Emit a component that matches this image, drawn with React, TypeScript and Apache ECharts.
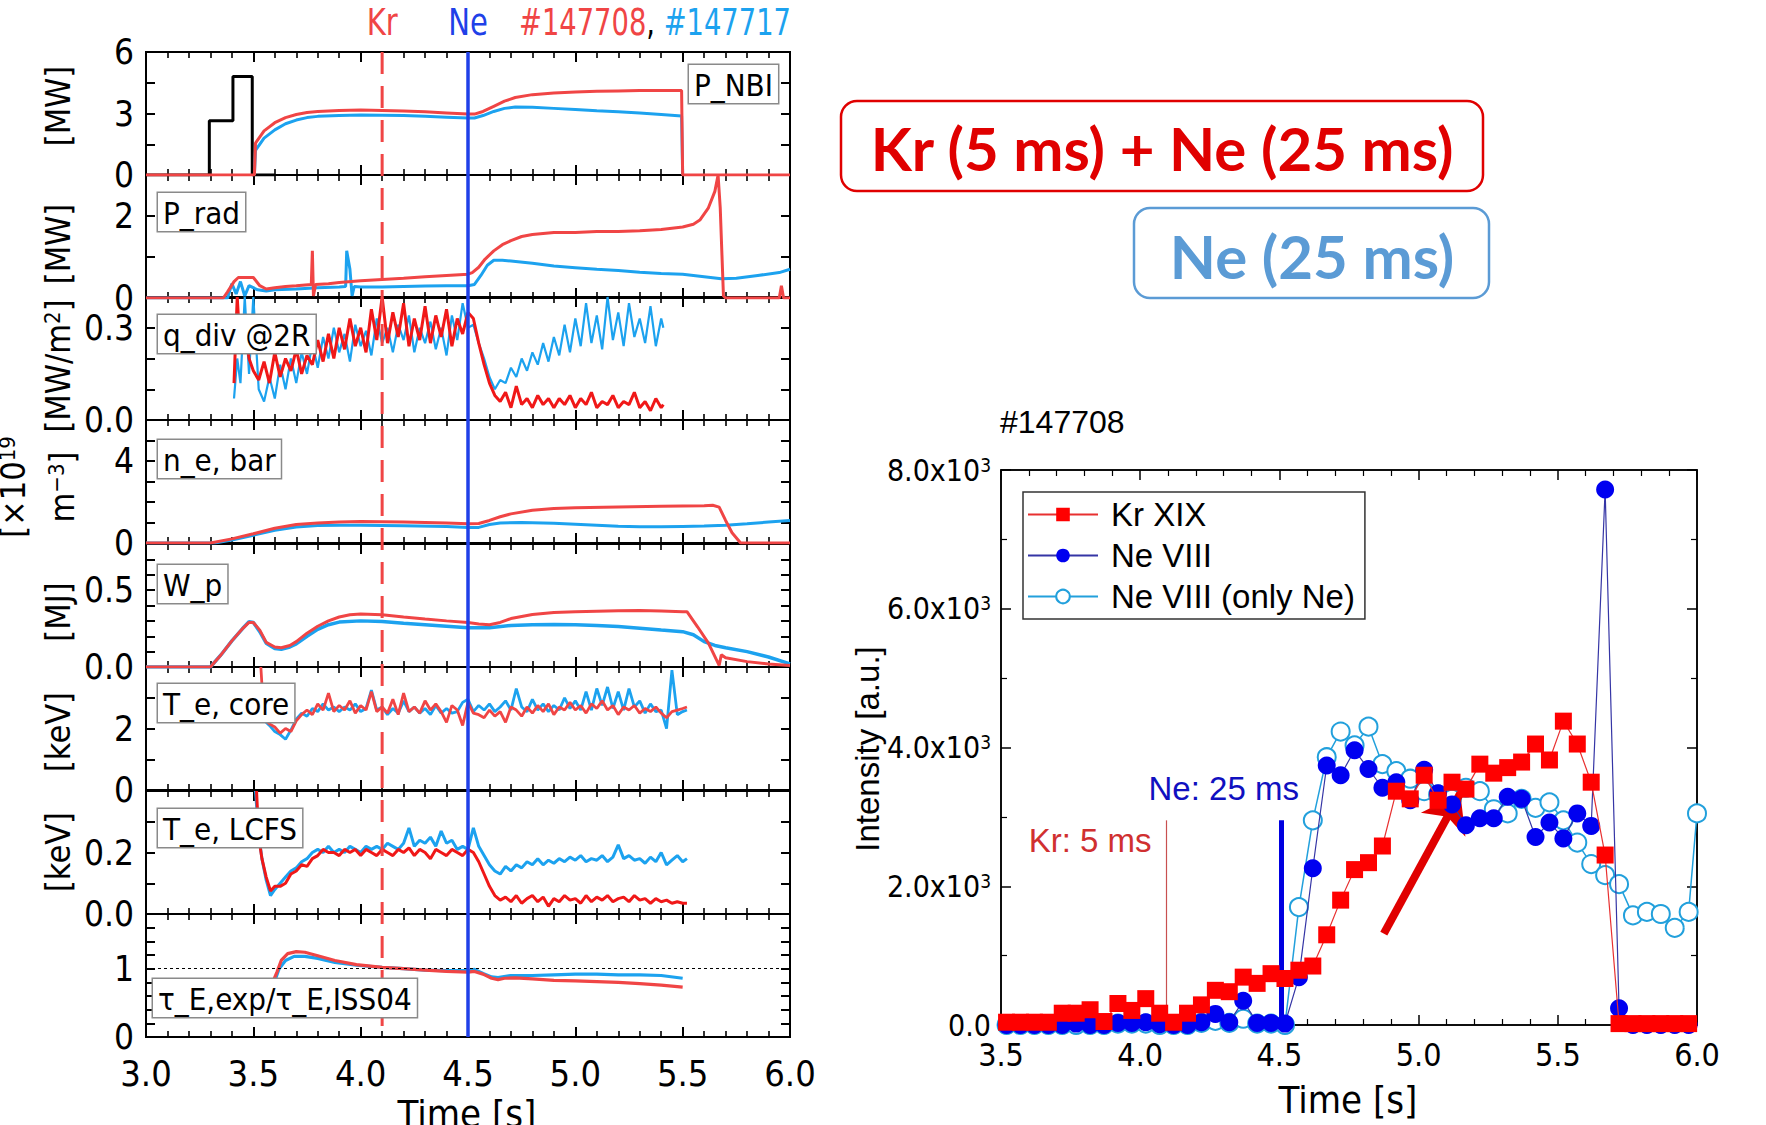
import { useEffect, useRef } from "react";
import * as echarts from "echarts";

// ---------------- data (left stack, shots #147708 red / #147717 blue) ----------------
const pnbiBlack = [[3.0,0],[3.295,0],[3.295,2.65],[3.405,2.65],[3.405,4.8],[3.495,4.8],[3.495,0],[3.6,0]];
const pnbiRed = [[3.0,0],[3.505,0],[3.51,1.55],[3.55,2.15],[3.6,2.55],[3.65,2.8],[3.7,2.95],[3.75,3.05],[3.8,3.1],[3.9,3.15],[4.0,3.17],[4.1,3.15],[4.2,3.12],[4.3,3.08],[4.4,3.03],[4.5,2.98],[4.53,2.97],[4.57,3.1],[4.62,3.35],[4.67,3.6],[4.72,3.78],[4.8,3.92],[4.9,4.0],[5.0,4.05],[5.1,4.08],[5.2,4.1],[5.3,4.12],[5.4,4.12],[5.495,4.12],[5.5,0],[6.0,0]];
const pnbiBlue = [[3.505,0],[3.51,1.2],[3.55,1.8],[3.6,2.2],[3.65,2.5],[3.7,2.68],[3.75,2.8],[3.8,2.86],[3.9,2.9],[4.0,2.93],[4.1,2.92],[4.2,2.9],[4.3,2.86],[4.4,2.82],[4.5,2.78],[4.53,2.78],[4.57,2.9],[4.62,3.1],[4.67,3.25],[4.72,3.32],[4.8,3.3],[4.9,3.25],[5.0,3.2],[5.1,3.13],[5.2,3.08],[5.3,3.02],[5.4,2.95],[5.495,2.88],[5.5,0]];

const pradRed = [[3.0,0],[3.36,0],[3.38,0.15],[3.41,0.4],[3.43,0.5],[3.5,0.5],[3.53,0.3],[3.56,0.22],[3.6,0.25],[3.65,0.28],[3.7,0.3],[3.77,0.33],[3.775,1.15],[3.78,0.05],[3.79,0.33],[3.85,0.35],[3.9,0.38],[4.0,0.42],[4.1,0.45],[4.2,0.48],[4.3,0.52],[4.4,0.55],[4.5,0.58],[4.52,0.62],[4.55,0.75],[4.58,0.95],[4.62,1.15],[4.66,1.3],[4.7,1.4],[4.75,1.5],[4.8,1.55],[4.9,1.6],[5.0,1.6],[5.1,1.62],[5.2,1.62],[5.3,1.64],[5.4,1.67],[5.45,1.7],[5.5,1.73],[5.55,1.8],[5.58,1.9],[5.62,2.2],[5.65,2.6],[5.665,3.0],[5.675,2.2],[5.69,0.05],[5.7,0],[5.95,0],[5.96,0.3],[5.97,0],[6.0,0]];
const pradBlue = [[3.0,0],[3.38,0],[3.40,0.35],[3.42,0.1],[3.44,0.4],[3.46,0.05],[3.48,0.3],[3.52,0.2],[3.56,0.17],[3.6,0.2],[3.7,0.22],[3.8,0.25],[3.9,0.27],[3.93,0.28],[3.935,1.15],[3.95,0.7],[3.96,0.05],[3.97,0.28],[4.0,0.27],[4.1,0.27],[4.2,0.28],[4.3,0.29],[4.4,0.3],[4.5,0.3],[4.53,0.33],[4.56,0.55],[4.59,0.8],[4.62,0.92],[4.66,0.92],[4.7,0.9],[4.8,0.85],[4.9,0.78],[5.0,0.74],[5.1,0.7],[5.2,0.67],[5.3,0.63],[5.4,0.6],[5.5,0.58],[5.6,0.52],[5.68,0.47],[5.75,0.48],[5.85,0.55],[5.95,0.62],[6.0,0.7]];

const qdivRed = [[3.41,0.12],[3.425,0.4],[3.44,0.22],[3.46,0.3],[3.48,0.2],[3.5,0.16],[3.525,0.13],[3.55,0.19],[3.575,0.12],[3.6,0.22],[3.625,0.14],[3.65,0.2],[3.675,0.16],[3.7,0.23],[3.725,0.15],[3.75,0.21],[3.775,0.18],[3.8,0.26],[3.825,0.19],[3.85,0.28],[3.875,0.2],[3.9,0.3],[3.925,0.23],[3.95,0.33],[3.975,0.24],[4.0,0.3],[4.025,0.22],[4.05,0.36],[4.075,0.26],[4.1,0.4],[4.125,0.25],[4.15,0.35],[4.175,0.27],[4.2,0.38],[4.225,0.24],[4.25,0.33],[4.275,0.26],[4.3,0.37],[4.325,0.25],[4.35,0.34],[4.375,0.27],[4.4,0.36],[4.425,0.24],[4.45,0.33],[4.475,0.28],[4.5,0.35],[4.525,0.33],[4.55,0.25],[4.575,0.18],[4.6,0.12],[4.625,0.08],[4.65,0.06],[4.675,0.09],[4.7,0.04],[4.725,0.11],[4.75,0.05],[4.775,0.07],[4.8,0.04],[4.825,0.08],[4.85,0.05],[4.875,0.07],[4.9,0.04],[4.925,0.07],[4.95,0.05],[4.975,0.08],[5.0,0.04],[5.025,0.07],[5.05,0.05],[5.075,0.09],[5.1,0.04],[5.125,0.06],[5.15,0.05],[5.175,0.08],[5.2,0.04],[5.225,0.06],[5.25,0.05],[5.275,0.09],[5.3,0.04],[5.325,0.06],[5.35,0.03],[5.375,0.07],[5.4,0.04],[5.41,0.05]];
const qdivBlue = [[3.41,0.07],[3.425,0.2],[3.44,0.12],[3.46,0.4],[3.48,0.15],[3.5,0.4],[3.525,0.1],[3.55,0.06],[3.575,0.14],[3.6,0.07],[3.625,0.18],[3.65,0.1],[3.675,0.2],[3.7,0.12],[3.725,0.22],[3.75,0.15],[3.775,0.25],[3.8,0.17],[3.825,0.27],[3.85,0.2],[3.875,0.3],[3.9,0.22],[3.925,0.28],[3.95,0.19],[3.975,0.31],[4.0,0.24],[4.025,0.29],[4.05,0.21],[4.075,0.33],[4.1,0.25],[4.125,0.3],[4.15,0.22],[4.175,0.31],[4.2,0.26],[4.225,0.34],[4.25,0.22],[4.275,0.3],[4.3,0.25],[4.325,0.32],[4.35,0.23],[4.375,0.3],[4.4,0.21],[4.425,0.34],[4.45,0.26],[4.475,0.38],[4.5,0.3],[4.525,0.31],[4.55,0.25],[4.575,0.2],[4.6,0.14],[4.625,0.1],[4.65,0.13],[4.675,0.12],[4.7,0.17],[4.725,0.14],[4.75,0.2],[4.775,0.16],[4.8,0.22],[4.825,0.18],[4.85,0.25],[4.875,0.19],[4.9,0.27],[4.925,0.21],[4.95,0.31],[4.975,0.22],[5.0,0.33],[5.025,0.24],[5.05,0.38],[5.075,0.25],[5.1,0.34],[5.125,0.23],[5.15,0.4],[5.175,0.26],[5.2,0.35],[5.225,0.24],[5.25,0.38],[5.275,0.27],[5.3,0.33],[5.325,0.25],[5.35,0.37],[5.375,0.24],[5.4,0.33],[5.41,0.3]];

const neRed = [[3.0,0],[3.3,0],[3.4,0.2],[3.5,0.45],[3.6,0.72],[3.7,0.9],[3.8,0.98],[3.9,1.03],[4.0,1.05],[4.1,1.04],[4.2,1.02],[4.3,1.0],[4.4,0.97],[4.5,0.94],[4.55,0.95],[4.6,1.1],[4.65,1.28],[4.7,1.42],[4.8,1.6],[4.9,1.68],[5.0,1.72],[5.2,1.76],[5.4,1.79],[5.6,1.82],[5.64,1.84],[5.67,1.75],[5.7,1.1],[5.73,0.5],[5.77,0],[6.0,0]];
const neBlue = [[3.0,0],[3.32,0],[3.4,0.15],[3.5,0.38],[3.6,0.62],[3.7,0.78],[3.8,0.85],[3.9,0.87],[4.0,0.87],[4.2,0.84],[4.4,0.8],[4.5,0.76],[4.55,0.76],[4.6,0.9],[4.65,0.98],[4.75,1.0],[4.9,0.96],[5.0,0.92],[5.1,0.87],[5.2,0.82],[5.3,0.79],[5.4,0.79],[5.5,0.81],[5.6,0.83],[5.7,0.87],[5.8,0.94],[5.9,1.02],[6.0,1.1]];

const wpRed = [[3.0,0],[3.3,0],[3.35,0.08],[3.4,0.17],[3.45,0.25],[3.48,0.29],[3.5,0.29],[3.53,0.24],[3.56,0.16],[3.6,0.13],[3.63,0.125],[3.67,0.14],[3.7,0.165],[3.75,0.22],[3.8,0.265],[3.85,0.3],[3.9,0.325],[3.95,0.34],[4.0,0.345],[4.1,0.34],[4.2,0.325],[4.3,0.312],[4.4,0.3],[4.5,0.29],[4.55,0.28],[4.6,0.275],[4.65,0.29],[4.7,0.315],[4.8,0.342],[4.9,0.355],[5.0,0.36],[5.1,0.363],[5.2,0.366],[5.3,0.367],[5.4,0.365],[5.5,0.36],[5.52,0.36],[5.57,0.26],[5.62,0.155],[5.67,0.01],[5.68,0.08],[5.7,0.06],[5.8,0.035],[5.9,0.02],[6.0,0.01]];
const wpBlue = [[3.0,0],[3.3,0],[3.35,0.08],[3.4,0.17],[3.45,0.25],[3.48,0.295],[3.5,0.29],[3.53,0.23],[3.56,0.155],[3.6,0.12],[3.63,0.115],[3.67,0.13],[3.7,0.15],[3.75,0.2],[3.8,0.245],[3.85,0.275],[3.9,0.292],[4.0,0.3],[4.1,0.296],[4.2,0.285],[4.3,0.275],[4.4,0.265],[4.5,0.255],[4.6,0.255],[4.7,0.27],[4.8,0.275],[4.9,0.276],[5.0,0.275],[5.1,0.27],[5.2,0.263],[5.3,0.252],[5.4,0.24],[5.5,0.23],[5.55,0.21],[5.6,0.165],[5.65,0.14],[5.7,0.125],[5.8,0.1],[5.9,0.065],[6.0,0.02]];

const teCoreRed = [[3.535,4.0],[3.55,2.3],[3.575,2.15],[3.6,2.05],[3.625,1.85],[3.65,2.0],[3.675,1.9],[3.7,2.25],[3.725,2.45],[3.75,2.6],[3.775,2.45],[3.8,2.8],[3.825,2.6],[3.85,3.15],[3.875,2.55],[3.9,2.75],[3.925,2.6],[3.95,2.9],[3.975,2.5],[4.0,2.75],[4.025,2.6],[4.05,3.2],[4.075,2.55],[4.1,2.7],[4.125,2.5],[4.15,2.95],[4.175,2.45],[4.2,3.15],[4.225,2.55],[4.25,2.7],[4.275,2.5],[4.3,2.9],[4.325,2.6],[4.35,2.8],[4.375,2.55],[4.4,2.2],[4.425,2.75],[4.45,2.6],[4.475,2.1],[4.5,2.85],[4.525,2.5],[4.55,2.45],[4.575,2.35],[4.6,2.6],[4.625,2.4],[4.65,2.55],[4.675,2.2],[4.7,2.7],[4.725,2.6],[4.75,2.4],[4.775,2.7],[4.8,2.5],[4.825,2.75],[4.85,2.55],[4.875,2.8],[4.9,2.45],[4.925,2.7],[4.95,2.6],[4.975,2.85],[5.0,2.6],[5.025,2.75],[5.05,2.5],[5.075,2.8],[5.1,2.65],[5.125,2.9],[5.15,2.6],[5.175,2.75],[5.2,2.45],[5.225,2.7],[5.25,2.6],[5.275,2.75],[5.3,2.5],[5.325,2.65],[5.35,2.55],[5.375,2.7],[5.4,2.5],[5.425,2.35],[5.45,2.55],[5.475,2.6],[5.5,2.65],[5.52,2.7]];
const teCoreBlue = [[3.545,2.3],[3.575,2.1],[3.6,1.9],[3.625,1.8],[3.65,1.65],[3.675,1.95],[3.7,2.3],[3.725,2.5],[3.75,2.4],[3.775,2.65],[3.8,2.55],[3.825,2.8],[3.85,2.6],[3.875,2.7],[3.9,2.55],[3.925,2.7],[3.95,2.6],[3.975,2.8],[4.0,2.55],[4.025,2.65],[4.05,3.25],[4.075,2.6],[4.1,2.7],[4.125,2.45],[4.15,2.65],[4.175,2.5],[4.2,2.9],[4.225,2.55],[4.25,2.7],[4.275,2.5],[4.3,2.65],[4.325,2.45],[4.35,2.75],[4.375,2.5],[4.4,2.65],[4.425,2.5],[4.45,2.55],[4.475,2.85],[4.5,2.95],[4.525,2.55],[4.55,2.75],[4.575,2.6],[4.6,2.8],[4.625,2.55],[4.65,2.7],[4.675,2.9],[4.7,2.6],[4.725,3.3],[4.75,2.7],[4.775,2.55],[4.8,2.95],[4.825,2.6],[4.85,2.8],[4.875,2.55],[4.9,2.75],[4.925,2.6],[4.95,3.0],[4.975,2.65],[5.0,2.9],[5.025,2.6],[5.05,3.2],[5.075,2.6],[5.1,3.3],[5.125,2.75],[5.15,3.35],[5.175,2.65],[5.2,3.2],[5.225,2.6],[5.25,3.3],[5.275,2.7],[5.3,2.9],[5.325,2.5],[5.35,2.8],[5.375,2.55],[5.4,2.6],[5.425,2.0],[5.45,3.9],[5.475,2.45],[5.5,2.55],[5.52,2.6]];

const teLcfsRed = [[3.515,0.4],[3.525,0.25],[3.54,0.18],[3.56,0.12],[3.58,0.075],[3.6,0.09],[3.625,0.09],[3.65,0.1],[3.675,0.13],[3.7,0.14],[3.725,0.16],[3.75,0.155],[3.775,0.18],[3.8,0.19],[3.825,0.21],[3.85,0.2],[3.875,0.2],[3.9,0.19],[3.925,0.21],[3.95,0.2],[3.975,0.21],[4.0,0.19],[4.025,0.21],[4.05,0.2],[4.075,0.19],[4.1,0.21],[4.125,0.2],[4.15,0.19],[4.175,0.21],[4.2,0.2],[4.225,0.215],[4.25,0.19],[4.275,0.21],[4.3,0.2],[4.325,0.18],[4.35,0.21],[4.375,0.2],[4.4,0.19],[4.425,0.21],[4.45,0.2],[4.475,0.19],[4.5,0.21],[4.525,0.2],[4.55,0.17],[4.575,0.13],[4.6,0.09],[4.625,0.06],[4.65,0.045],[4.675,0.055],[4.7,0.04],[4.725,0.06],[4.75,0.035],[4.775,0.05],[4.8,0.06],[4.825,0.04],[4.85,0.055],[4.875,0.025],[4.9,0.05],[4.925,0.04],[4.95,0.06],[4.975,0.045],[5.0,0.05],[5.025,0.035],[5.05,0.06],[5.075,0.04],[5.1,0.055],[5.125,0.045],[5.15,0.06],[5.175,0.04],[5.2,0.05],[5.225,0.055],[5.25,0.04],[5.275,0.06],[5.3,0.045],[5.325,0.05],[5.35,0.035],[5.375,0.05],[5.4,0.04],[5.425,0.045],[5.45,0.035],[5.475,0.04],[5.5,0.035],[5.52,0.035]];
const teLcfsBlue = [[3.51,0.4],[3.525,0.26],[3.54,0.18],[3.56,0.11],[3.58,0.06],[3.6,0.08],[3.625,0.1],[3.65,0.12],[3.675,0.14],[3.7,0.15],[3.725,0.17],[3.75,0.18],[3.775,0.2],[3.8,0.21],[3.825,0.2],[3.85,0.22],[3.875,0.2],[3.9,0.21],[3.925,0.2],[3.95,0.22],[3.975,0.21],[4.0,0.2],[4.025,0.22],[4.05,0.21],[4.075,0.22],[4.1,0.21],[4.125,0.23],[4.15,0.22],[4.175,0.21],[4.2,0.23],[4.225,0.28],[4.25,0.22],[4.275,0.24],[4.3,0.23],[4.325,0.25],[4.35,0.22],[4.375,0.27],[4.4,0.23],[4.425,0.24],[4.45,0.21],[4.475,0.22],[4.5,0.21],[4.525,0.28],[4.55,0.22],[4.575,0.19],[4.6,0.16],[4.625,0.14],[4.65,0.13],[4.675,0.155],[4.7,0.14],[4.725,0.16],[4.75,0.15],[4.775,0.17],[4.8,0.16],[4.825,0.18],[4.85,0.16],[4.875,0.175],[4.9,0.165],[4.925,0.18],[4.95,0.17],[4.975,0.185],[5.0,0.175],[5.025,0.19],[5.05,0.17],[5.075,0.18],[5.1,0.175],[5.125,0.19],[5.15,0.17],[5.175,0.185],[5.2,0.225],[5.225,0.18],[5.25,0.19],[5.275,0.175],[5.3,0.18],[5.325,0.165],[5.35,0.185],[5.375,0.17],[5.4,0.2],[5.425,0.16],[5.45,0.175],[5.475,0.19],[5.5,0.17],[5.52,0.18]];

const tauRed = [[3.59,0.8],[3.61,0.95],[3.63,1.12],[3.66,1.22],[3.7,1.25],[3.74,1.24],[3.8,1.19],[3.88,1.12],[3.98,1.06],[4.1,1.02],[4.2,1.0],[4.3,0.98],[4.4,0.96],[4.5,0.95],[4.53,0.96],[4.57,0.92],[4.61,0.86],[4.64,0.84],[4.67,0.86],[4.72,0.865],[4.8,0.85],[4.9,0.83],[5.0,0.82],[5.1,0.81],[5.2,0.8],[5.3,0.78],[5.4,0.76],[5.5,0.73]];
const tauBlue = [[3.6,0.82],[3.62,1.0],[3.65,1.12],[3.69,1.18],[3.74,1.18],[3.8,1.15],[3.88,1.09],[3.98,1.05],[4.1,1.02],[4.2,1.0],[4.3,0.98],[4.4,0.97],[4.5,0.97],[4.53,0.99],[4.57,0.93],[4.61,0.88],[4.64,0.87],[4.7,0.9],[4.8,0.9],[4.9,0.91],[5.0,0.92],[5.1,0.92],[5.2,0.91],[5.3,0.91],[5.4,0.9],[5.5,0.86]];

const panelLabels = ["P_NBI", "P_rad", "q_div @2R", "n_e, bar", "W_p", "T_e, core", "T_e, LCFS", "τ_E,exp/τ_E,ISS04"];
const panelMin = [0, 0, 0, 0, 0, 0, 0, 0];
const panelMax = [6, 3, 0.4, 6, 0.8, 4, 0.4, 1.8];
const panelTick = [1.5, 1, 0.1, 1, 0.1, 1, 0.1, 0.2];
const panelTickLabels = [[0, 3, 6], [0, 2], [0, 0.3], [0, 4], [0, 0.5], [0, 2], [0, 0.2], [0, 1]];
const panelDecimals = [0, 0, 1, 0, 1, 0, 1, 0];
const xTicksLeft = [3.0, 3.5, 4.0, 4.5, 5.0, 5.5, 6.0];
const krTime = 4.1;
const neTime = 4.5;

// ---------------- data (right panel, spectroscopy #147708) ----------------
const krXIX = [[3.52,40],[3.57,40],[3.62,40],[3.67,40],[3.72,170],[3.77,170],[3.82,220],[3.87,50],[3.92,310],[3.97,210],[4.02,380],[4.07,170],[4.12,40],[4.17,170],[4.22,290],[4.27,500],[4.32,480],[4.37,690],[4.42,600],[4.47,740],[4.52,670],[4.57,790],[4.62,850],[4.67,1300],[4.72,1800],[4.77,2240],[4.82,2340],[4.87,2580],[4.92,3370],[4.97,3260],[5.02,3600],[5.07,3240],[5.12,3500],[5.17,3400],[5.22,3760],[5.27,3630],[5.32,3710],[5.37,3790],[5.42,4050],[5.47,3820],[5.52,4380],[5.57,4050],[5.62,3500],[5.67,2450],[5.72,20],[5.77,20],[5.82,20],[5.87,20],[5.92,20],[5.97,20]];
const neVIII = [[3.52,0],[3.57,0],[3.62,0],[3.67,0],[3.72,0],[3.77,20],[3.82,0],[3.87,0],[3.92,30],[3.97,30],[4.02,40],[4.07,10],[4.12,0],[4.17,0],[4.22,40],[4.27,160],[4.32,40],[4.37,350],[4.42,30],[4.47,30],[4.52,20],[4.57,690],[4.62,2260],[4.67,3740],[4.72,3600],[4.77,3960],[4.82,3690],[4.87,3420],[4.92,3500],[4.97,3240],[5.02,3680],[5.07,3340],[5.12,3180],[5.17,2880],[5.22,2980],[5.27,2980],[5.32,3290],[5.37,3260],[5.42,2710],[5.47,2920],[5.52,2690],[5.57,3050],[5.62,2870],[5.67,7720],[5.72,240],[5.77,0],[5.82,0],[5.87,0],[5.92,0],[5.97,0]];
const neVIIIonly = [[3.52,0],[3.57,0],[3.62,0],[3.67,0],[3.72,0],[3.77,0],[3.82,0],[3.87,0],[3.92,20],[3.97,20],[4.02,20],[4.07,0],[4.12,0],[4.17,0],[4.22,30],[4.27,60],[4.32,30],[4.37,90],[4.42,20],[4.47,20],[4.52,0],[4.57,1700],[4.62,2950],[4.67,3860],[4.72,4230],[4.77,4030],[4.82,4300],[4.87,3760],[4.92,3660],[4.97,3550],[5.02,3370],[5.07,3320],[5.12,3260],[5.17,3420],[5.22,3370],[5.27,3110],[5.32,3050],[5.37,3260],[5.42,3130],[5.47,3210],[5.52,2950],[5.57,2630],[5.62,2320],[5.67,2160],[5.72,2030],[5.77,1580],[5.82,1630],[5.87,1600],[5.92,1400],[5.97,1630],[6.0,3050]];
const krPuffLine = [[4.095, 0], [4.095, 2950]];
const nePuffLine = [[4.505, 0], [4.505, 2950]];
const arrowFromTo = [[4.875, 1316], [5.15, 3342]];
const krLabelAt = [3.82, 2660];
const neLabelAt = [4.30, 3410];
const seriesNames = ["Kr XIX", "Ne VIII", "Ne VIII (only Ne)"];

// ---------------- styling / layout ----------------
const W = 1766, H = 1125;
const NARROW = "'Liberation Sans Narrow', 'Arial Narrow', 'DejaVu Sans Condensed', sans-serif";
const SANS = "'Liberation Sans', Arial, sans-serif";
const RED = "#f04545";
const BLUE = "#1ca2ef";
const QRED = "#f01818";
const L_LEFT = 146, L_WIDTH = 644, L_H = 123;
const L_TOPS = [52, 175, 297, 420, 544, 667, 791, 914];
const R_GRID = { left: 1001, top: 470, width: 696, height: 555 };

const panelSeries: any[][] = [
  [{ d: pnbiBlack, c: "#000", w: 3 }, { d: pnbiBlue, c: BLUE, w: 3 }, { d: pnbiRed, c: RED, w: 3 }],
  [{ d: pradBlue, c: BLUE, w: 3 }, { d: pradRed, c: RED, w: 3 }],
  [{ d: qdivBlue, c: BLUE, w: 2.2 }, { d: qdivRed, c: QRED, w: 3 }],
  [{ d: neBlue, c: BLUE, w: 3 }, { d: neRed, c: RED, w: 3 }],
  [{ d: wpBlue, c: BLUE, w: 3.5 }, { d: wpRed, c: RED, w: 3 }],
  [{ d: teCoreBlue, c: BLUE, w: 2.8 }, { d: teCoreRed, c: RED, w: 2.8 }],
  [{ d: teLcfsBlue, c: BLUE, w: 3 }, { d: teLcfsRed, c: QRED, w: 3 }],
  [{ d: tauBlue, c: BLUE, w: 3.2 }, { d: tauRed, c: RED, w: 3.2 }],
];

function near(a: number, b: number) { return Math.abs(a - b) < 1e-6; }

function buildOption() {
  const grid: any[] = [], xAxis: any[] = [], yAxis: any[] = [], series: any[] = [];
  const tickLine = { color: "#000", width: 2 };
  for (let i = 0; i < 8; i++) {
    grid.push({ left: L_LEFT, top: L_TOPS[i], width: L_WIDTH, height: L_H, show: true, borderColor: "#000", borderWidth: 2, backgroundColor: "transparent" });
    const last = i === 7;
    const xBase = {
      gridIndex: i, type: "value", min: xTicksLeft[0], max: xTicksLeft[xTicksLeft.length - 1], interval: 0.5,
      axisLine: { show: true, onZero: false, lineStyle: { color: "#000", width: 2 } },
      axisTick: { show: true, inside: true, length: 10, lineStyle: tickLine },
      minorTick: { show: true, splitNumber: 5, length: 6, lineStyle: { color: "#000", width: 1.6 } },
      splitLine: { show: false }, minorSplitLine: { show: false },
    };
    xAxis.push({ ...xBase, position: "bottom", axisLabel: { show: last, fontSize: 36, fontFamily: NARROW, color: "#000", margin: 18, showMinLabel: true, showMaxLabel: true, formatter: (v: number) => v.toFixed(1) } });
    xAxis.push({ ...xBase, position: "top", axisLabel: { show: false } });
    const labs = panelTickLabels[i], dec = panelDecimals[i];
    const yBase = {
      gridIndex: i, type: "value", min: panelMin[i], max: panelMax[i], interval: panelTick[i],
      axisLine: { show: true, onZero: false, lineStyle: { color: "#000", width: 2 } },
      axisTick: { show: true, inside: true, length: 9, lineStyle: tickLine },
      splitLine: { show: false },
    };
    yAxis.push({ ...yBase, position: "left", axisLabel: { show: true, fontSize: 35, fontFamily: NARROW, color: "#000", margin: 12, showMinLabel: true, showMaxLabel: true, formatter: (v: number) => labs.some((l) => near(l, v)) ? v.toFixed(dec) : "" } });
    yAxis.push({ ...yBase, position: "right", axisLabel: { show: false } });
    panelSeries[i].forEach((s: any, k: number) => {
      const ser: any = {
        type: "line", xAxisIndex: 2 * i, yAxisIndex: 2 * i, data: s.d, symbol: "none", showSymbol: false,
        lineStyle: { color: s.c, width: s.w }, itemStyle: { color: s.c }, silent: true, z: 2 + k, animation: false,
      };
      if (i === 7 && k === 0) {
        ser.markLine = { silent: true, symbol: "none", animation: false, label: { show: false }, lineStyle: { color: "#000", type: [3, 3], width: 1 }, data: [{ yAxis: 1 }] };
      }
      series.push(ser);
    });
  }
  // right panel
  grid.push({ ...R_GRID, show: true, borderColor: "#000", borderWidth: 1.5, backgroundColor: "transparent" });
  const rx = {
    gridIndex: 8, type: "value", min: 3.5, max: 6.0, interval: 0.5,
    axisLine: { show: true, onZero: false, lineStyle: { color: "#000", width: 1.5 } },
    axisTick: { show: true, inside: true, length: 10, lineStyle: { color: "#000", width: 1.5 } },
    minorTick: { show: true, splitNumber: 5, length: 6, lineStyle: { color: "#000", width: 1.2 } },
    splitLine: { show: false }, minorSplitLine: { show: false },
  };
  xAxis.push({ ...rx, position: "bottom", axisLabel: { show: true, fontSize: 32, fontFamily: NARROW, color: "#000", margin: 14, showMinLabel: true, showMaxLabel: true, formatter: (v: number) => v.toFixed(1) } });
  xAxis.push({ ...rx, position: "top", axisLabel: { show: false } });
  const ry = {
    gridIndex: 8, type: "value", min: 0, max: 8000, interval: 2000,
    axisLine: { show: true, onZero: false, lineStyle: { color: "#000", width: 1.5 } },
    axisTick: { show: true, inside: true, length: 10, lineStyle: { color: "#000", width: 1.5 } },
    minorTick: { show: true, splitNumber: 2, length: 6, lineStyle: { color: "#000", width: 1.2 } },
    splitLine: { show: false }, minorSplitLine: { show: false },
  };
  yAxis.push({
    ...ry, position: "left",
    axisLabel: {
      show: true, margin: 10, color: "#000", showMinLabel: true, showMaxLabel: true,
      formatter: (v: number) => v === 0 ? "{m|0.0}" : `{m|${(v / 1000).toFixed(1)}x10}{s|3}`,
      rich: { m: { fontSize: 30, fontFamily: NARROW, color: "#000" }, s: { fontSize: 19, fontFamily: NARROW, color: "#000", verticalAlign: "top", padding: [0, 0, 10, 0] } },
    },
  });
  yAxis.push({ ...ry, position: "right", axisLabel: { show: false } });

  series.push({
    name: seriesNames[0], type: "line", xAxisIndex: 16, yAxisIndex: 16, data: krXIX, symbol: "rect", symbolSize: 17, showSymbol: true,
    itemStyle: { color: "#ff0000" }, lineStyle: { color: "#e83030", width: 1.2 }, z: 6, animation: false,
    markLine: {
      silent: true, animation: false, label: { show: false },
      data: [
        [{ coord: krPuffLine[0], symbol: "none", lineStyle: { color: "#c85050", width: 1.2, type: "solid" } }, { coord: krPuffLine[1], symbol: "none" }],
        [{ coord: arrowFromTo[0], symbol: "none", lineStyle: { color: "#e00000", width: 8, type: "solid" } }, { coord: arrowFromTo[1], symbol: "arrow", symbolSize: [38, 36] }],
      ],
    },
  });
  series.push({
    name: seriesNames[1], type: "line", xAxisIndex: 16, yAxisIndex: 16, data: neVIII, symbol: "circle", symbolSize: 18, showSymbol: true,
    itemStyle: { color: "#0000f0" }, lineStyle: { color: "#3535a5", width: 1.2 }, z: 5, animation: false,
    markLine: {
      silent: true, animation: false, label: { show: false },
      data: [[{ coord: nePuffLine[0], symbol: "none", lineStyle: { color: "#0000e0", width: 5, type: "solid" } }, { coord: nePuffLine[1], symbol: "none" }]],
    },
  });
  series.push({
    name: seriesNames[2], type: "line", xAxisIndex: 16, yAxisIndex: 16, data: neVIIIonly, symbol: "emptyCircle", symbolSize: 18, showSymbol: true,
    itemStyle: { color: "#22a0dc", borderWidth: 2 }, lineStyle: { color: "#22a0dc", width: 1.5 }, z: 4, animation: false,
  });

  return {
    animation: false,
    backgroundColor: "#fff",
    grid, xAxis, yAxis, series,
    legend: {
      data: seriesNames, orient: "vertical", left: 1023, top: 492, itemWidth: 70, itemHeight: 17, itemGap: 8,
      padding: [6, 10, 6, 4], borderColor: "#333", borderWidth: 1.5, backgroundColor: "#fff", selectedMode: false,
      textStyle: { fontSize: 33, fontFamily: SANS, color: "#000", padding: [0, 0, 0, 8] },
    },
  };
}

function txt(x: number, y: number, text: string, opts: any = {}) {
  const { rotation, z, scaleX, align = "left", valign = "middle", ...style } = opts;
  return {
    type: "text", x, y, rotation: rotation || 0, scaleX: scaleX || 1, z: z || 100, silent: true,
    style: { text, textAlign: align, align, textVerticalAlign: valign, verticalAlign: valign, fill: "#000", fontFamily: NARROW, fontSize: 34, ...style },
  };
}

export default function App() {
  const ref = useRef<HTMLDivElement>(null);
  useEffect(() => {
    const chart = echarts.init(ref.current!, null, { renderer: "svg", width: W, height: H });
    chart.setOption(buildOption() as any);
    const px = (t: number) => chart.convertToPixel({ xAxisIndex: 0 }, t) as number;
    const rp = (p: number[]) => chart.convertToPixel({ gridIndex: 8 }, p) as number[];
    const xKr = px(krTime), xNe = px(neTime);
    const top = L_TOPS[0], bottom = L_TOPS[7] + L_H;
    const sup = { fontSize: 22, fontFamily: NARROW, verticalAlign: "top", padding: [0, 0, 12, 0] };
    const els: any[] = [];
    // top title
    els.push(txt(xKr, 22, "Kr", { align: "center", fill: RED, fontSize: 38, scaleX: 0.85 }));
    els.push(txt(xNe, 22, "Ne", { align: "center", fill: "#2040e8", fontSize: 38, scaleX: 0.85 }));
    els.push(txt(519, 22, "{r|#147708}{k|, }{b|#147717}", { fontSize: 38, scaleX: 0.8, rich: { r: { fill: RED, fontSize: 38, fontFamily: NARROW }, k: { fill: "#000", fontSize: 38, fontFamily: NARROW }, b: { fill: BLUE, fontSize: 38, fontFamily: NARROW } } }));
    // vertical marker lines across the stack
    els.push({ type: "line", z: 90, silent: true, shape: { x1: xKr, y1: top, x2: xKr, y2: bottom }, style: { stroke: RED, lineWidth: 3, lineDash: [22, 12] } });
    els.push({ type: "line", z: 90, silent: true, shape: { x1: xNe, y1: top, x2: xNe, y2: bottom }, style: { stroke: "#2040e8", lineWidth: 3.5 } });
    // panel labels
    const labelPos = [[689, 65], [158, 193], [158, 315], [158, 440], [158, 565], [158, 684], [158, 809], [153, 979]];
    panelLabels.forEach((t, i) => {
      els.push(txt(labelPos[i][0], labelPos[i][1], t, { valign: "top", fontSize: 31, backgroundColor: "#fff", borderColor: "#8a8a8a", borderWidth: 1.5, padding: [4, 5, 3, 5], z: 95 }));
    });
    // y-axis names
    const rot = Math.PI / 2;
    els.push(txt(58, 106, "[MW]", { align: "center", rotation: rot }));
    els.push(txt(58, 244, "[MW]", { align: "center", rotation: rot }));
    els.push(txt(58, 366, "[MW/m{s|2}]", { align: "center", rotation: rot, rich: { s: sup } }));
    els.push(txt(13, 487, "[×10{s|19}", { align: "center", rotation: rot, rich: { s: sup } }));
    els.push(txt(62, 487, "m{s|−3}]", { align: "center", rotation: rot, rich: { s: sup } }));
    els.push(txt(58, 612, "[MJ]", { align: "center", rotation: rot }));
    els.push(txt(58, 732, "[keV]", { align: "center", rotation: rot }));
    els.push(txt(58, 852, "[keV]", { align: "center", rotation: rot }));
    els.push(txt(467, 1114, "Time [s]", { align: "center", fontSize: 38 }));
    // right-top boxes
    els.push({ type: "rect", z: 80, silent: true, shape: { x: 841, y: 101, width: 642, height: 90, r: 16 }, style: { fill: "#fff", stroke: "#e00000", lineWidth: 2.5 } });
    els.push(txt(1162, 148, "Kr (5 ms) + Ne (25 ms)", { align: "center", fill: "#e00000", fontFamily: "Lato, 'Open Sans', sans-serif", fontWeight: "bold", fontSize: 60 }));
    els.push({ type: "rect", z: 80, silent: true, shape: { x: 1134, y: 208, width: 355, height: 90, r: 16 }, style: { fill: "#fff", stroke: "#5b9bd5", lineWidth: 2.5 } });
    els.push(txt(1312, 256, "Ne (25 ms)", { align: "center", fill: "#5b9bd5", fontFamily: "Lato, 'Open Sans', sans-serif", fontWeight: "bold", fontSize: 60 }));
    // right panel texts
    els.push(txt(1000, 422, "#147708", { fontFamily: SANS, fontSize: 32 }));
    els.push(txt(867, 749, "Intensity [a.u.]", { align: "center", rotation: rot, fontFamily: SANS, fontSize: 33 }));
    els.push(txt(1348, 1100, "Time [s]", { align: "center", fontSize: 38 }));
    const kp = rp(krLabelAt), np = rp(neLabelAt);
    els.push(txt(kp[0], kp[1], "Kr: 5 ms", { align: "center", fill: "#d03030", fontFamily: SANS, fontSize: 33 }));
    els.push(txt(np[0], np[1], "Ne: 25 ms", { align: "center", fill: "#1010c0", fontFamily: SANS, fontSize: 33 }));
    chart.setOption({ graphic: { elements: els } } as any);
    return () => chart.dispose();
  }, []);
  return <div ref={ref} style={{ position: "fixed", left: 0, top: 0, width: W, height: H, background: "#fff" }} />;
}
